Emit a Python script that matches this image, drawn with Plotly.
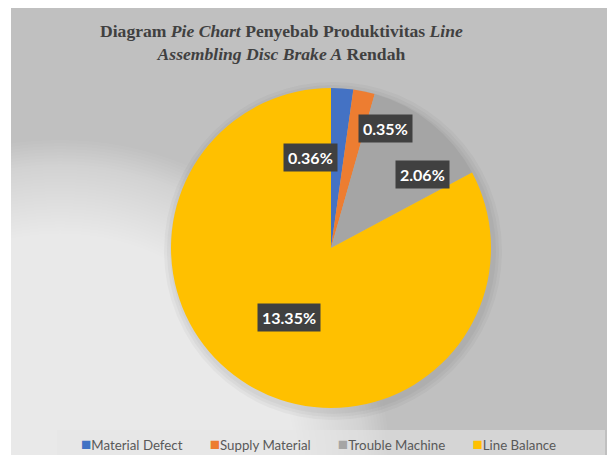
import math
import plotly.graph_objects as go

categories = ["Material Defect", "Supply Material", "Trouble Machine", "Line Balance"]
values = [0.36, 0.35, 2.06, 13.35]
label_texts = ["0.36%", "0.35%", "2.06%", "13.35%"]
colors = ["#4472C4", "#ED7D31", "#A5A5A5", "#FFC000"]

# page has an 8px body margin; figure fills the rest of the 615x455 window
OFF = 8
W, H = 615 - OFF, 455 - OFF
CX, CY, R = 331, 248, 160  # pie centre / radius in window pixels

# label placement style (angle nudge in degrees, radial fraction)
label_nudge = [-17, 12.5, 12.4, 0]
label_frac = [0.58, 0.82, 0.73, 0.51]


def px(x):
    return (x - OFF) / W


def py(y):
    return 1 - (y - OFF) / H


fig = go.Figure()
fig.add_trace(go.Pie(
    labels=categories, values=values, sort=False, direction="clockwise",
    rotation=0, marker=dict(colors=colors, line=dict(width=0)),
    textinfo="none", hoverinfo="label+value", showlegend=False,
    domain=dict(x=[px(CX - R), px(CX + R)], y=[py(CY + R), py(CY - R)]),
))

shapes = [
    dict(type="rect", xref="paper", yref="paper", x0=px(11), x1=1, y0=0, y1=1,
         fillcolor="#c0c0c0", line=dict(width=0), layer="below"),
]
# smooth light gradient from the lower-left corner
gx, gy = 60, 470
for i in range(56):
    rr = 330 - i * 3
    shapes.append(dict(type="circle", xref="paper", yref="paper",
                       x0=px(gx - rr), x1=px(gx + rr), y0=py(gy + rr), y1=py(gy - rr),
                       fillcolor="rgba(255,255,255,0.042)", line=dict(width=0), layer="below"))
# soft shadow round the pie
for d in (9, 6, 3):
    shapes.append(dict(type="circle", xref="paper", yref="paper",
                       x0=px(CX + 2 - R - d), x1=px(CX + 2 + R + d),
                       y0=py(CY + 3 + R + d), y1=py(CY + 3 - R - d),
                       fillcolor="rgba(0,0,0,0.03)", line=dict(width=0), layer="below"))
# legend strip
shapes.append(dict(type="rect", xref="paper", yref="paper", x0=px(57), x1=px(605), y0=0, y1=py(430),
                   fillcolor="rgba(230,230,230,0.55)", line=dict(width=0), layer="below"))
# white margin at left of chart area
shapes.append(dict(type="rect", xref="paper", yref="paper", x0=0, x1=px(11), y0=0, y1=1,
                   fillcolor="white", line=dict(width=0), layer="below"))

total = sum(values)
annotations = []
cum = 0
for v, t, nud, fr in zip(values, label_texts, label_nudge, label_frac):
    mid = (cum + v / 2) / total * 360 + nud
    cum += v
    ax = CX + R * fr * math.sin(math.radians(mid))
    ay = CY - R * fr * math.cos(math.radians(mid))
    annotations.append(dict(x=px(ax), y=py(ay), xref="paper", yref="paper",
                            xanchor="center", yanchor="middle", text="<b>" + t + "</b>",
                            showarrow=False, bgcolor="#404040", borderpad=4,
                            font=dict(family="Lato, Open Sans, sans-serif", size=16, color="white")))

# title
annotations.append(dict(
    x=px(281), y=py(19), xref="paper", yref="paper", xanchor="center", yanchor="top",
    showarrow=False, align="center",
    text="<b>Diagram <i>Pie Chart</i> Penyebab Produktivitas <i>Line</i><br>"
         "<i>Assembling Disc Brake A</i> Rendah</b>",
    font=dict(family="Liberation Serif, Times New Roman, serif", size=17.6, color="#404040")))

# legend (coloured squares + names)
gap = "&nbsp;" * 8
legend_text = gap.join(
    f"<span style='color:{c};font-size:17px'>■</span>{n}" for n, c in zip(categories, colors))
annotations.append(dict(
    x=px(318), y=py(443), xref="paper", yref="paper", xanchor="center", yanchor="middle",
    showarrow=False, text=legend_text,
    font=dict(family="Lato, sans-serif", size=13.3, color="#595959")))

fig.update_layout(
    width=W, height=H, margin=dict(l=0, r=0, t=0, b=0),
    paper_bgcolor="white", plot_bgcolor="rgba(0,0,0,0)",
    showlegend=False, shapes=shapes, annotations=annotations,
)

fig.write_html("out.html")
